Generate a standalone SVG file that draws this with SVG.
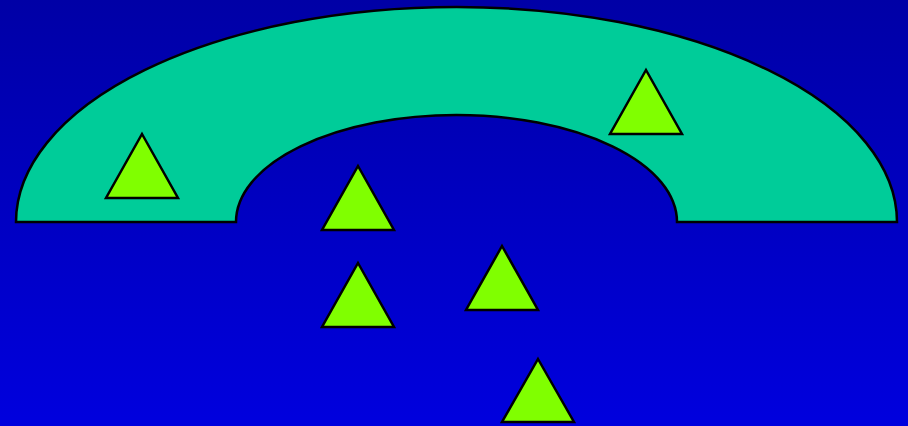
<svg xmlns="http://www.w3.org/2000/svg" width="908" height="426" viewBox="0 0 908 426">
<defs>
<linearGradient id="bg" x1="0" y1="0" x2="0" y2="1">
<stop offset="0" stop-color="#0000A6"/>
<stop offset="1" stop-color="#0000DE"/>
</linearGradient>
</defs>
<style>
.tri{fill:#80FF00;stroke:#000;stroke-width:2.5;stroke-linejoin:miter}
.arch{fill:#00CC99;stroke:#000;stroke-width:2.5}
</style>
<rect width="908" height="426" fill="url(#bg)"/>
<g id="arch">
<path class="arch" d="M16,222 A440.5,215 0 0 1 897,222 L677,222 A220.5,107 0 0 0 236,222 Z"/>
</g>
<g id="tri1"><polygon class="tri" points="142,134 178,198 106,198"/></g>
<g id="tri2"><polygon class="tri" points="646,70 682,134 610,134"/></g>
<g id="tri3"><polygon class="tri" points="358,166 394,230 322,230"/></g>
<g id="tri4"><polygon class="tri" points="358,263 394,327 322,327"/></g>
<g id="tri5"><polygon class="tri" points="502,246 538,310 466,310"/></g>
<g id="tri6"><polygon class="tri" points="538,359 574,422 502,422"/></g>
</svg>
